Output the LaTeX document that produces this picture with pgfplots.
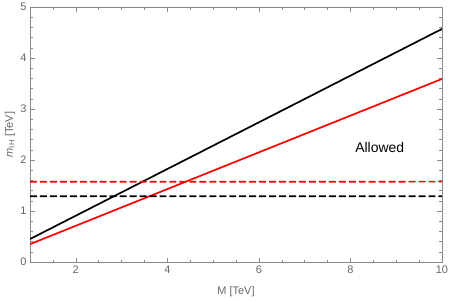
\documentclass[border=0pt]{standalone}
\usepackage{pgfplots}
\pgfplotsset{compat=1.18}
\usepackage{fontspec}
\setmainfont{Liberation Sans}
\definecolor{framegray}{HTML}{8A8A8A}
\definecolor{labgray}{HTML}{666666}
\begin{document}
\begin{tikzpicture}
\begin{axis}[
  scale only axis,
  width=412bp, height=255bp,
  xmin=1, xmax=10, ymin=0, ymax=5,
  xtick={2,4,6,8,10},
  ytick={0,1,2,3,4,5},
  minor xtick={1,1.5,...,10},
  minor ytick={0,0.2,...,5},
  tick align=inside,
  major tick length=4.5bp,
  minor tick length=2.5bp,
  every tick/.style={framegray, line width=0.5pt},
  axis line style={framegray, line width=0.8pt},
  tick label style={font=\fontsize{11}{13}\selectfont, color=labgray},
  /pgf/number format/assume math mode=true,
  xlabel={M [TeV]},
  ylabel={\textit{m}\textsubscript{IH} [TeV]},
  label style={font=\fontsize{11}{13}\selectfont, color=labgray},
  xlabel style={at={(axis description cs:0.5,0)}, anchor=center, yshift=-30bp},
  ylabel style={at={(axis description cs:0,0.5)}, anchor=center, yshift=20bp},
  clip=true,
]
\addplot[black, line width=1.7pt] coordinates {(1,0.45) (10,4.57)};
\addplot[red, line width=1.7pt] coordinates {(1,0.35) (10,3.59)};
\addplot[draw=red, line width=1.7pt, dash pattern=on 7pt off 3pt] coordinates {(1,1.575) (10,1.5755)};
\addplot[draw=black, line width=1.7pt, dash pattern=on 7pt off 3pt] coordinates {(1,1.29) (10,1.2905)};
\node[font=\fontsize{14}{16}\selectfont] at (axis cs:8.64,2.24) {Allowed};
\end{axis}
\pgfresetboundingbox
\path (-30bp,-39bp) rectangle (420bp,262bp);
\end{tikzpicture}
\end{document}
